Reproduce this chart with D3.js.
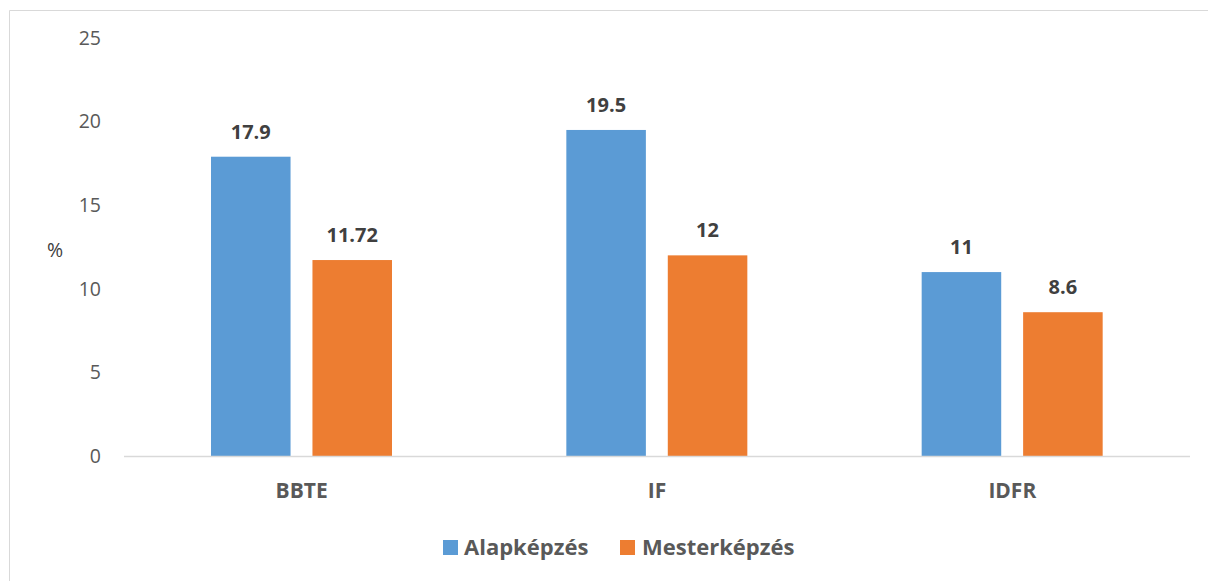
<!DOCTYPE html>
<html><head><meta charset="utf-8">
<script src="https://cdn.jsdelivr.net/npm/d3@7/dist/d3.min.js"></script>
<style>body{margin:0;background:#fff;}svg{display:block;font-family:"Open Sans",sans-serif;}</style>
</head><body>
<svg id="c" width="1208" height="581"></svg>
<script>
const categories = ["BBTE", "IF", "IDFR"];
const seriesNames = ["Alapképzés", "Mesterképzés"];
const alapkepzes = [17.9, 19.5, 11];
const mesterkepzes = [11.72, 12, 8.6];
const valueLabels = [["17.9", "19.5", "11"], ["11.72", "12", "8.6"]];
const yTicks = [0, 5, 10, 15, 20, 25];
const colors = ["#5B9BD5", "#ED7D31"];

const svg = d3.select("#c");
// frame (only top & left visible)
svg.append("line").attr("x1",9.5).attr("x2",1208).attr("y1",10.5).attr("y2",10.5).attr("stroke","#D9D9D9");
svg.append("line").attr("x1",9.5).attr("x2",9.5).attr("y1",10.5).attr("y2",581).attr("stroke","#D9D9D9");

const x0 = d3.scaleBand().domain(categories).range([124, 1190]).paddingInner(0).paddingOuter(0);
const x1 = d3.scaleBand().domain(seriesNames).range([87, 268]).paddingInner(0.216).paddingOuter(0);
const y = d3.scaleLinear().domain([0, 25]).range([456, 38]);

// y tick labels
svg.append("g").selectAll("text").data(yTicks).join("text")
  .attr("x", 101).attr("y", d => y(d)).attr("dy", "0.35em")
  .attr("text-anchor", "end").attr("fill", "#595959").style("font-size", "19.5px").text(d => d);

svg.append("text").attr("x", 55).attr("y", 250).attr("dy","0.35em").attr("text-anchor","middle")
  .attr("fill","#404040").style("font-size","19.5px").text("%");

const series = [alapkepzes, mesterkepzes];
series.forEach((vals, si) => {
  const g = svg.append("g");
  g.selectAll("rect").data(vals).join("rect")
    .attr("x", (d, i) => x0(categories[i]) + x1(seriesNames[si]))
    .attr("width", x1.bandwidth())
    .attr("y", d => y(d)).attr("height", d => y(0) - y(d))
    .attr("fill", colors[si]);
  g.selectAll("text").data(vals).join("text")
    .attr("x", (d, i) => x0(categories[i]) + x1(seriesNames[si]) + x1.bandwidth()/2)
    .attr("y", d => y(d) - 18)
    .attr("text-anchor", "middle").attr("fill", "#404040")
    .style("font-size", "20px").style("font-weight", "bold")
    .text((d, i) => valueLabels[si][i]);
});

// x axis line
svg.append("line").attr("x1",124).attr("x2",1190).attr("y1",y(0)+0.5).attr("y2",y(0)+0.5)
  .attr("stroke","#D9D9D9").attr("stroke-width",1.5);

svg.append("g").selectAll("text").data(categories).join("text")
  .attr("x", d => x0(d) + x0.bandwidth()/2).attr("y", 491).attr("dy","0.35em")
  .attr("text-anchor","middle").attr("fill","#595959")
  .style("font-size","21px").style("font-weight","bold").text(d => d);

// legend
const legend = [{x:443, tx:464}, {x:620, tx:642}];
seriesNames.forEach((n, i) => {
  svg.append("rect").attr("x", legend[i].x).attr("y", 540).attr("width", 15).attr("height", 15).attr("fill", colors[i]);
  svg.append("text").attr("x", legend[i].tx).attr("y", 547).attr("dy","0.35em")
    .attr("fill","#595959").style("font-size","22px").style("font-weight","bold").text(n);
});
</script>
</body></html>
